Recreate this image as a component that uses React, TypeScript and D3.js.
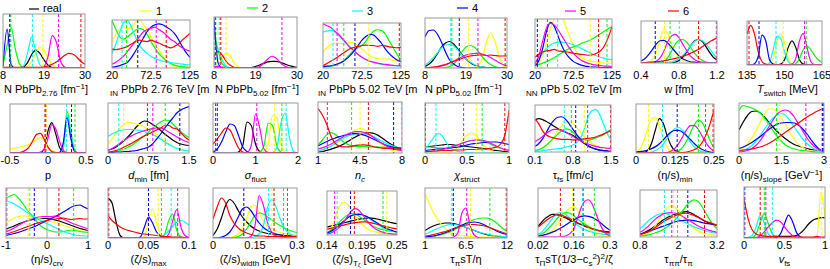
import React from 'react';
import * as d3 from 'd3';

// Posterior densities for 24 model parameters, 7 runs each ("real" + 6 closure tests)
// Every curve: density sampled evenly over the panel's x range, in % of panel height.

const seriesNames = ['real', '1', '2', '3', '4', '5', '6'];
const seriesColors = ['#000000', '#ffff00', '#00ff00', '#00ffff', '#0000ff', '#ff00ff', '#ff0000'];

const tickLabels = [
  ['8', '19', '30'], ['20', '72.5', '125'], ['8', '19', '30'], ['20', '72.5', '125'],
  ['8', '19', '30'], ['20', '72.5', '125'], ['0.4', '0.8', '1.2'], ['135', '150', '165'],
  ['-0.5', '0', '0.5'], ['0', '0.75', '1.5'], ['0', '1', '2'], ['1', '4.5', '8'],
  ['0', '0.5', '1'], ['0.1', '0.8', '1.5'], ['0', '0.125', '0.25'], ['0', '1.5', '3'],
  ['-1', '0', '1'], ['0', '0.05', '0.1'], ['0', '0.15', '0.3'], ['0.14', '0.195', '0.25'],
  ['1', '6.5', '12'], ['0.02', '0.16', '0.3'], ['0.8', '2', '3.2'], ['0', '0.5', '1'],
];

// order: real, 1, 2, 3, 4, 5, 6
const normPbPb276 = [
  [0, 0, 0, 0, 0, 2, 10, 25, 33, 27, 15, 5, 1, 0, 0, 0, 0, 0, 0, 0, 0],
  [0, 0, 0, 0, 0, 0, 3, 12, 28, 38, 33, 18, 6, 1, 0, 0, 0, 0, 0, 0, 0],
  [5, 42, 75, 35, 8, 1, 0, 0, 0, 0, 0, 0, 0, 0, 0, 0, 0, 0, 0, 0, 0],
  [0, 0, 0, 0, 0, 4, 28, 57, 30, 6, 1, 0, 0, 0, 0, 0, 0, 0, 0, 0, 0],
  [3, 72, 6, 0, 0, 0, 0, 0, 0, 0, 0, 0, 0, 0, 0, 0, 0, 0, 0, 0, 0],
  [0, 0, 0, 0, 0, 0, 0, 0, 0, 0, 3, 22, 60, 48, 14, 2, 0, 0, 0, 0, 0],
  [1, 1, 1, 1, 1, 1, 1, 1, 1, 1, 2, 4, 7, 11, 17, 23, 27, 26, 20, 12, 7],
];
const sigmaPbPb276 = [
  null,
  [55, 70, 80, 85, 82, 85, 95, 100, 92, 80, 65, 50, 38, 25, 15, 8, 4, 3, 2, 2, 2],
  [100, 80, 65, 60, 65, 72, 78, 82, 80, 70, 55, 42, 30, 22, 15, 10, 6, 4, 3, 2, 1],
  [30, 50, 75, 95, 98, 85, 65, 48, 38, 30, 24, 20, 17, 14, 12, 11, 10, 9, 8, 7, 6],
  [2, 3, 5, 8, 12, 22, 35, 48, 62, 76, 85, 90, 92, 90, 85, 80, 72, 60, 45, 32, 22],
  [8, 12, 18, 25, 35, 45, 55, 65, 75, 80, 83, 85, 80, 75, 68, 60, 55, 48, 42, 38, 35],
  [40, 38, 40, 42, 45, 50, 55, 58, 56, 55, 58, 55, 52, 48, 45, 42, 45, 50, 58, 65, 72],
];
const normPbPb502 = [
  [0, 0, 0, 0, 0, 0, 0, 0, 0, 1, 3, 6, 9, 12, 13, 13, 11, 8, 5, 3, 1],
  [0, 5, 20, 30, 22, 8, 2, 0, 0, 0, 0, 0, 0, 0, 0, 0, 0, 0, 0, 0, 0],
  [70, 35, 8, 2, 0, 0, 0, 0, 0, 0, 0, 0, 0, 0, 0, 0, 0, 0, 0, 0, 0],
  [20, 35, 15, 3, 0, 0, 0, 0, 0, 0, 0, 0, 0, 0, 0, 0, 0, 0, 0, 0, 0],
  [95, 10, 0, 0, 0, 0, 0, 0, 0, 0, 0, 0, 0, 0, 0, 0, 0, 0, 0, 0, 0],
  [3, 3, 2, 1, 0, 0, 0, 0, 0, 0, 1, 3, 10, 18, 23, 19, 10, 4, 1, 0, 0],
  [22, 32, 25, 12, 5, 1, 0, 0, 0, 0, 0, 0, 0, 0, 0, 0, 0, 0, 0, 0, 0],
];
const sigmaPbPb502 = [
  null,
  [35, 45, 52, 55, 55, 54, 55, 57, 55, 50, 42, 34, 27, 23, 21, 20, 20, 19, 17, 15, 14],
  [2, 3, 4, 6, 9, 14, 22, 32, 40, 45, 50, 60, 72, 82, 85, 83, 75, 60, 45, 30, 18],
  [80, 82, 84, 80, 72, 63, 55, 46, 38, 30, 24, 19, 15, 12, 10, 8, 7, 6, 5, 5, 4],
  [3, 4, 5, 7, 10, 14, 20, 28, 38, 50, 62, 70, 75, 73, 65, 55, 42, 32, 24, 18, 14],
  [98, 94, 90, 82, 75, 65, 55, 45, 38, 30, 24, 19, 15, 13, 11, 9, 8, 7, 6, 5, 5],
  [5, 10, 15, 20, 26, 32, 38, 43, 46, 48, 50, 51, 50, 50, 48, 50, 49, 47, 46, 45, 46],
];
const normPPb502 = [
  [3, 8, 16, 28, 42, 50, 53, 48, 38, 27, 18, 11, 6, 3, 2, 1, 0, 0, 0, 0, 0],
  [0, 0, 0, 0, 0, 0, 0, 0, 0, 0, 0, 0, 1, 5, 20, 52, 70, 55, 25, 6, 1],
  [0, 0, 0, 0, 0, 1, 3, 8, 18, 32, 42, 45, 42, 33, 22, 13, 7, 3, 1, 0, 0],
  [5, 12, 20, 30, 40, 46, 47, 44, 36, 26, 18, 12, 7, 4, 2, 1, 0, 0, 0, 0, 0],
  [62, 75, 76, 68, 52, 32, 16, 8, 3, 1, 0, 0, 0, 0, 0, 0, 0, 0, 0, 0, 0],
  [0, 0, 1, 2, 4, 6, 10, 14, 18, 22, 26, 28, 29, 30, 28, 25, 21, 16, 11, 7, 4],
  [1, 1, 2, 3, 5, 7, 10, 13, 16, 19, 22, 24, 25, 26, 26, 25, 26, 25, 24, 24, 24],
];
const sigmaPPb502 = [
  null,
  [3, 10, 25, 50, 80, 100, 110, 105, 85, 65, 45, 30, 22, 18, 15, 13, 12, 11, 10, 10, 10],
  [5, 7, 10, 13, 17, 21, 26, 31, 36, 40, 43, 46, 50, 53, 56, 60, 65, 70, 75, 80, 84],
  [12, 20, 30, 40, 47, 51, 53, 53, 52, 50, 47, 44, 40, 36, 32, 28, 25, 22, 20, 18, 17],
  [5, 15, 40, 75, 93, 85, 65, 45, 30, 20, 13, 9, 6, 4, 3, 2, 2, 1, 1, 1, 1],
  [8, 25, 55, 82, 91, 88, 78, 65, 52, 40, 30, 22, 16, 12, 9, 7, 6, 5, 4, 4, 3],
  [22, 28, 33, 35, 36, 38, 35, 34, 33, 32, 30, 29, 28, 27, 26, 27, 30, 35, 45, 62, 85],
];
const nucleonW = [
  [0, 0, 0, 0, 0, 0, 0, 0, 0, 2, 6, 14, 26, 40, 52, 56, 52, 40, 26, 14, 7],
  [0, 0, 2, 8, 25, 55, 80, 70, 45, 25, 12, 6, 3, 1, 0, 0, 0, 0, 0, 0, 0],
  [0, 0, 0, 0, 0, 1, 4, 12, 28, 45, 54, 56, 50, 38, 25, 14, 7, 3, 1, 0, 0],
  [0, 0, 0, 0, 0, 0, 0, 0, 2, 5, 10, 18, 28, 40, 50, 56, 54, 46, 35, 22, 12],
  [5, 10, 20, 32, 45, 53, 54, 48, 38, 27, 17, 10, 6, 3, 2, 1, 0, 0, 0, 0, 0],
  [0, 0, 0, 1, 4, 12, 28, 50, 64, 68, 60, 45, 30, 17, 9, 4, 2, 1, 0, 0, 0],
  [1, 1, 2, 2, 3, 4, 5, 7, 9, 11, 13, 16, 19, 23, 27, 32, 38, 44, 50, 55, 60],
];
const tSwitch = [
  [0, 0, 0, 0, 0, 0, 0, 0, 0, 2, 12, 40, 55, 40, 12, 2, 0, 0, 0, 0, 0],
  [0, 0, 0, 0, 0, 0, 2, 15, 55, 72, 50, 15, 2, 0, 0, 0, 0, 0, 0, 0, 0],
  [0, 0, 0, 0, 0, 0, 0, 0, 0, 0, 0, 0, 0, 3, 15, 35, 43, 35, 22, 12, 6],
  [0, 0, 0, 0, 0, 0, 5, 35, 65, 60, 30, 8, 1, 0, 0, 0, 0, 0, 0, 0, 0],
  [0, 0, 3, 20, 68, 55, 12, 2, 0, 0, 0, 0, 0, 0, 0, 0, 0, 0, 0, 0, 0],
  [0, 0, 0, 0, 0, 0, 0, 0, 0, 0, 0, 0, 2, 15, 55, 72, 40, 8, 1, 0, 0],
  [70, 90, 70, 30, 8, 2, 0, 0, 0, 0, 0, 0, 0, 0, 0, 0, 0, 0, 0, 0, 0],
];
const pParam = [
  [0, 0, 0, 0, 0, 0, 0, 0, 1, 8, 45, 62, 40, 12, 2, 0, 0, 0, 0, 0, 0],
  [8, 10, 11, 13, 15, 18, 22, 28, 32, 25, 12, 5, 2, 1, 0, 0, 0, 0, 0, 0, 0],
  [0, 0, 0, 0, 0, 0, 0, 0, 0, 0, 0, 0, 0, 1, 8, 85, 45, 5, 0, 0, 0],
  [0, 0, 0, 0, 0, 0, 0, 0, 0, 0, 0, 0, 0, 0, 10, 78, 40, 4, 0, 0, 0],
  [0, 0, 0, 0, 0, 0, 0, 0, 0, 0, 0, 0, 0, 1, 20, 72, 30, 3, 0, 0, 0],
  [0, 0, 0, 0, 0, 0, 0, 0, 2, 8, 30, 58, 50, 25, 6, 1, 0, 0, 0, 0, 0],
  [0, 0, 0, 2, 5, 12, 25, 38, 40, 28, 12, 3, 1, 0, 0, 0, 0, 0, 0, 0, 0],
];
const dMin = [
  [6, 8, 12, 18, 25, 33, 42, 52, 60, 64, 62, 57, 52, 45, 38, 32, 26, 21, 18, 16, 15],
  [18, 28, 40, 50, 58, 62, 60, 58, 56, 52, 47, 42, 37, 30, 24, 18, 13, 10, 8, 6, 5],
  [1, 2, 3, 5, 8, 12, 16, 22, 28, 35, 42, 50, 56, 62, 66, 65, 58, 50, 42, 36, 31],
  [33, 38, 42, 45, 47, 47, 47, 46, 45, 43, 40, 37, 33, 28, 22, 17, 13, 9, 7, 5, 4],
  [1, 1, 2, 2, 3, 3, 4, 5, 7, 9, 12, 18, 28, 38, 50, 60, 70, 80, 86, 90, 93],
  [5, 9, 14, 20, 26, 31, 35, 39, 42, 45, 47, 49, 50, 50, 47, 42, 37, 32, 28, 24, 21],
  [2, 3, 5, 8, 12, 16, 20, 25, 30, 34, 38, 42, 46, 50, 55, 55, 50, 48, 40, 32, 26],
];
const sigmaFluct = [
  [0, 0, 0, 0, 0, 0, 2, 15, 62, 55, 18, 3, 0, 0, 0, 0, 0, 0, 0, 0, 0],
  [0, 0, 0, 0, 0, 0, 0, 0, 0, 0, 0, 0, 2, 20, 75, 70, 18, 2, 0, 0, 0],
  [0, 0, 0, 0, 0, 0, 0, 0, 0, 0, 0, 2, 15, 60, 55, 15, 2, 0, 0, 0, 0],
  [0, 0, 0, 0, 0, 0, 0, 0, 0, 0, 0, 0, 0, 0, 1, 10, 60, 80, 30, 3, 0],
  [2, 8, 22, 42, 58, 55, 35, 12, 3, 0, 0, 0, 0, 0, 0, 0, 0, 0, 0, 0, 0],
  [0, 0, 0, 0, 0, 0, 0, 0, 1, 15, 78, 50, 8, 1, 0, 0, 0, 0, 0, 0, 0],
  [18, 28, 40, 50, 46, 28, 10, 2, 0, 0, 0, 0, 0, 0, 0, 0, 0, 0, 0, 0, 0],
];
const nC = [
  [2, 3, 5, 7, 10, 13, 17, 22, 27, 32, 36, 39, 40, 39, 36, 31, 25, 19, 14, 10, 7],
  [5, 7, 10, 13, 17, 22, 28, 34, 40, 45, 48, 46, 40, 32, 24, 17, 11, 7, 5, 4, 3],
  [16, 25, 35, 40, 37, 30, 22, 17, 14, 13, 13, 13, 12, 12, 12, 11, 11, 10, 10, 10, 10],
  [4, 6, 9, 13, 18, 24, 29, 33, 36, 38, 39, 38, 36, 33, 29, 24, 20, 16, 13, 11, 9],
  [14, 18, 22, 26, 29, 32, 34, 36, 38, 38, 37, 35, 32, 28, 24, 20, 16, 13, 11, 10, 9],
  [8, 10, 13, 17, 22, 27, 32, 37, 40, 42, 42, 40, 37, 32, 26, 20, 15, 11, 8, 6, 5],
  [87, 75, 58, 35, 20, 14, 12, 12, 13, 15, 16, 16, 15, 13, 11, 10, 9, 9, 8, 8, 7],
];
const chiStruct = [
  [12, 13, 14, 15, 16, 17, 17, 16, 15, 14, 13, 12, 11, 10, 9, 8, 6, 5, 4, 3, 2],
  [0, 0, 0, 0, 0, 0, 2, 6, 14, 26, 36, 40, 36, 26, 15, 8, 4, 2, 1, 0, 0],
  [12, 12, 11, 10, 10, 10, 11, 13, 16, 20, 23, 25, 26, 25, 23, 20, 16, 12, 9, 7, 6],
  [8, 18, 30, 39, 35, 22, 10, 5, 3, 2, 1, 1, 0, 0, 0, 0, 0, 0, 0, 0, 0],
  [5, 6, 7, 8, 8, 9, 10, 11, 12, 14, 16, 18, 19, 20, 21, 22, 22, 22, 21, 19, 17],
  [2, 3, 4, 5, 7, 9, 11, 14, 17, 20, 23, 25, 26, 26, 25, 22, 18, 14, 10, 7, 5],
  [3, 3, 4, 4, 5, 5, 5, 6, 6, 6, 7, 7, 7, 8, 8, 9, 10, 12, 18, 35, 85],
];
const tauFs = [
  [68, 71, 69, 65, 60, 55, 50, 46, 42, 39, 35, 30, 24, 18, 13, 9, 6, 4, 3, 2, 1],
  [3, 5, 8, 14, 22, 33, 45, 55, 62, 64, 60, 52, 42, 32, 24, 18, 14, 11, 9, 8, 7],
  [3, 5, 9, 15, 22, 30, 38, 45, 49, 48, 42, 34, 28, 25, 25, 27, 30, 33, 37, 42, 48],
  [2, 2, 3, 4, 5, 6, 7, 8, 10, 12, 15, 20, 30, 50, 75, 88, 90, 80, 60, 40, 25],
  [12, 18, 28, 42, 57, 68, 74, 75, 70, 60, 48, 37, 27, 19, 13, 9, 6, 4, 3, 2, 1],
  [22, 27, 33, 40, 45, 48, 48, 46, 43, 38, 33, 28, 24, 20, 17, 14, 12, 10, 9, 8, 7],
  [70, 60, 45, 36, 32, 30, 28, 27, 27, 27, 26, 26, 27, 28, 29, 30, 32, 35, 38, 42, 46],
];
const etaSMin = [
  [0, 0, 1, 5, 20, 48, 70, 60, 35, 15, 5, 2, 0, 0, 0, 0, 0, 0, 0, 0, 0],
  [2, 8, 25, 50, 70, 72, 55, 30, 12, 4, 1, 0, 0, 0, 0, 0, 0, 0, 0, 0, 0],
  [0, 0, 0, 0, 0, 0, 0, 0, 0, 0, 2, 5, 12, 25, 42, 58, 67, 62, 45, 25, 10],
  [0, 0, 0, 0, 2, 5, 10, 18, 30, 42, 50, 52, 46, 35, 22, 12, 6, 3, 1, 0, 0],
  [2, 3, 4, 6, 9, 13, 19, 27, 36, 43, 46, 46, 42, 35, 27, 19, 12, 7, 4, 2, 1],
  [0, 0, 0, 0, 0, 0, 0, 0, 1, 4, 10, 20, 34, 48, 56, 56, 48, 34, 20, 10, 4],
  [0, 0, 0, 0, 0, 0, 0, 0, 0, 0, 0, 0, 1, 2, 4, 7, 12, 22, 38, 60, 88],
];
const etaSSlope = [
  [46, 62, 75, 83, 84, 80, 72, 62, 52, 43, 35, 28, 22, 17, 14, 11, 9, 7, 6, 5, 4],
  [5, 10, 18, 30, 45, 62, 78, 88, 88, 82, 70, 55, 40, 28, 18, 11, 7, 4, 3, 2, 2],
  [85, 95, 93, 90, 86, 80, 70, 58, 45, 33, 23, 16, 11, 8, 6, 5, 4, 3, 2, 2, 1],
  [3, 5, 9, 15, 24, 35, 48, 60, 70, 76, 79, 75, 65, 52, 40, 28, 19, 12, 7, 4, 2],
  [9, 12, 16, 21, 27, 33, 40, 47, 53, 58, 60, 61, 61, 60, 56, 48, 38, 26, 15, 7, 3],
  [2, 3, 5, 9, 15, 25, 38, 52, 66, 78, 84, 86, 82, 72, 58, 44, 30, 19, 11, 6, 3],
  [5, 6, 7, 8, 10, 12, 15, 19, 24, 30, 36, 42, 48, 54, 60, 66, 72, 77, 82, 86, 89],
];
const etaSCrv = [
  [18, 21, 24, 28, 31, 34, 36, 38, 39, 39, 39, 38, 36, 34, 31, 28, 25, 22, 19, 17, 15],
  [30, 35, 40, 43, 44, 44, 43, 41, 39, 37, 35, 33, 31, 28, 25, 23, 20, 17, 15, 13, 12],
  [80, 84, 87, 80, 70, 58, 48, 38, 28, 21, 17, 14, 12, 12, 13, 15, 16, 15, 13, 12, 11],
  [73, 72, 68, 63, 58, 52, 47, 42, 37, 33, 29, 25, 21, 17, 13, 10, 8, 6, 5, 4, 4],
  [5, 7, 9, 11, 14, 17, 20, 23, 27, 31, 35, 39, 43, 47, 52, 57, 62, 65, 66, 62, 58],
  [12, 16, 20, 25, 30, 34, 37, 40, 42, 43, 43, 43, 44, 42, 38, 34, 30, 27, 24, 21, 19],
  [8, 10, 13, 16, 19, 22, 25, 28, 31, 33, 35, 37, 38, 39, 40, 38, 37, 38, 39, 38, 38],
];
const zetaSMax = [
  [80, 70, 32, 5, 0, 0, 0, 0, 0, 0, 0, 0, 0, 0, 0, 0, 0, 0, 0, 0, 0],
  [0, 0, 0, 0, 0, 0, 0, 0, 0, 3, 35, 58, 30, 6, 1, 0, 0, 0, 0, 0, 0],
  [0, 0, 0, 0, 0, 0, 0, 0, 0, 0, 0, 0, 0, 1, 8, 35, 48, 15, 2, 0, 0],
  [0, 0, 0, 0, 0, 0, 0, 0, 0, 0, 0, 0, 0, 2, 6, 14, 24, 32, 35, 32, 25],
  [0, 0, 0, 0, 0, 0, 0, 0, 2, 22, 42, 30, 12, 4, 1, 0, 0, 0, 0, 0, 0],
  [0, 0, 0, 0, 0, 0, 0, 0, 0, 0, 0, 0, 0, 0, 1, 8, 35, 57, 22, 5, 1],
  [45, 35, 28, 22, 18, 15, 13, 11, 9, 8, 7, 6, 5, 4, 3, 3, 2, 2, 2, 1, 1],
];
const zetaSWidth = [
  [5, 18, 40, 65, 77, 70, 55, 42, 32, 24, 18, 14, 11, 9, 8, 7, 6, 5, 5, 4, 4],
  [0, 0, 0, 0, 1, 3, 8, 18, 38, 62, 65, 50, 35, 24, 18, 14, 11, 9, 7, 6, 5],
  [0, 0, 0, 0, 0, 1, 3, 8, 18, 32, 45, 50, 48, 42, 36, 30, 25, 20, 16, 13, 11],
  [0, 0, 0, 0, 0, 0, 0, 0, 0, 1, 3, 8, 25, 62, 77, 62, 38, 20, 10, 6, 4],
  [0, 0, 2, 5, 12, 25, 42, 58, 62, 55, 42, 30, 21, 15, 11, 8, 6, 5, 4, 3, 3],
  [0, 0, 0, 0, 0, 0, 0, 0, 0, 3, 25, 85, 65, 30, 12, 5, 2, 1, 0, 0, 0],
  [38, 62, 80, 70, 45, 30, 20, 14, 10, 7, 5, 4, 4, 3, 3, 3, 3, 3, 3, 3, 3],
];
const zetaST0 = [
  [18, 20, 22, 24, 26, 28, 30, 32, 34, 36, 37, 38, 39, 38, 37, 35, 33, 31, 29, 27, 26],
  [5, 12, 30, 55, 70, 75, 68, 58, 45, 33, 24, 17, 12, 9, 7, 5, 4, 3, 3, 2, 2],
  [5, 10, 17, 25, 33, 40, 46, 49, 48, 44, 38, 32, 26, 21, 17, 14, 12, 10, 9, 8, 7],
  [3, 6, 10, 16, 23, 31, 39, 45, 48, 49, 47, 43, 38, 32, 26, 21, 17, 13, 10, 8, 6],
  [5, 8, 13, 19, 26, 33, 40, 44, 46, 47, 46, 43, 39, 34, 29, 24, 19, 15, 12, 9, 7],
  [2, 4, 8, 14, 22, 32, 44, 55, 60, 57, 48, 37, 27, 19, 13, 9, 6, 4, 3, 2, 2],
  [13, 15, 17, 19, 21, 23, 25, 27, 28, 29, 30, 30, 29, 27, 25, 23, 21, 19, 17, 15, 14],
];
const tauPiShear = [
  [15, 20, 24, 27, 29, 30, 30, 29, 27, 24, 21, 18, 15, 12, 9, 7, 5, 4, 3, 2, 2],
  [88, 70, 52, 38, 27, 19, 13, 9, 7, 5, 4, 3, 3, 2, 2, 2, 2, 2, 2, 2, 2],
  [2, 3, 4, 5, 7, 9, 12, 16, 20, 25, 30, 34, 37, 39, 40, 40, 38, 33, 26, 19, 13],
  [8, 11, 15, 19, 22, 25, 27, 27, 26, 24, 21, 18, 15, 12, 10, 8, 6, 5, 4, 3, 3],
  [2, 3, 4, 6, 8, 11, 14, 18, 22, 26, 29, 31, 32, 31, 28, 24, 20, 16, 12, 9, 7],
  [0, 0, 0, 0, 0, 0, 0, 2, 10, 50, 60, 25, 6, 1, 0, 0, 0, 0, 0, 0, 0],
  [4, 5, 7, 9, 11, 13, 16, 19, 22, 24, 26, 27, 27, 26, 25, 23, 20, 17, 14, 11, 9],
];
const tauPiBulk = [
  [22, 30, 38, 43, 46, 46, 44, 41, 38, 34, 31, 28, 25, 22, 19, 17, 15, 13, 12, 11, 10],
  [1, 2, 4, 8, 14, 22, 32, 43, 53, 60, 62, 55, 43, 30, 19, 11, 6, 3, 2, 1, 1],
  [3, 6, 11, 18, 26, 35, 43, 48, 50, 48, 43, 37, 31, 26, 22, 18, 15, 12, 10, 8, 7],
  [5, 10, 18, 28, 38, 46, 50, 49, 44, 37, 30, 24, 19, 15, 12, 10, 8, 7, 6, 5, 5],
  [2, 3, 5, 7, 10, 13, 17, 21, 26, 31, 35, 39, 42, 43, 42, 40, 36, 31, 25, 19, 14],
  [0, 0, 0, 0, 0, 0, 0, 1, 3, 8, 18, 38, 60, 73, 76, 68, 50, 30, 15, 6, 2],
  [20, 26, 32, 38, 42, 45, 45, 43, 40, 37, 33, 29, 26, 23, 20, 17, 15, 13, 11, 10, 9],
];
const tauPiPi = [
  [6, 9, 13, 18, 24, 30, 36, 41, 45, 48, 51, 53, 54, 52, 48, 43, 38, 33, 30, 27, 25],
  [3, 5, 8, 14, 24, 38, 52, 62, 66, 64, 56, 45, 34, 25, 18, 13, 9, 7, 5, 4, 3],
  [2, 3, 4, 6, 9, 12, 16, 21, 28, 36, 45, 55, 66, 75, 79, 76, 66, 52, 38, 26, 18],
  [18, 25, 33, 40, 45, 49, 50, 49, 46, 42, 38, 34, 30, 26, 22, 19, 16, 13, 11, 9, 8],
  [6, 8, 11, 14, 17, 20, 23, 26, 29, 32, 34, 35, 36, 36, 35, 33, 31, 29, 28, 27, 26],
  [10, 15, 22, 30, 38, 44, 49, 51, 52, 51, 48, 44, 39, 34, 29, 24, 20, 17, 14, 12, 10],
  [5, 8, 11, 15, 20, 26, 32, 37, 41, 45, 48, 50, 51, 49, 46, 42, 38, 34, 31, 28, 26],
];
const vFs = [
  [1, 1, 1, 1, 1, 2, 2, 2, 3, 3, 3, 3, 4, 5, 10, 18, 28, 35, 38, 40, 40],
  [0, 0, 0, 0, 0, 0, 0, 0, 0, 0, 0, 0, 0, 0, 0, 0, 0, 1, 3, 90, 40],
  [0, 0, 1, 8, 30, 48, 28, 8, 2, 0, 0, 0, 0, 0, 0, 0, 0, 0, 0, 0, 0],
  [0, 1, 5, 22, 45, 30, 8, 2, 0, 0, 0, 0, 0, 0, 0, 0, 0, 0, 0, 0, 0],
  [0, 0, 0, 0, 0, 0, 0, 0, 1, 8, 28, 45, 32, 10, 2, 0, 0, 0, 0, 0, 0],
  [0, 0, 0, 1, 4, 12, 22, 30, 35, 32, 22, 12, 5, 2, 0, 0, 0, 0, 0, 0, 0],
  [77, 38, 16, 8, 5, 4, 3, 3, 3, 2, 2, 2, 2, 2, 2, 2, 2, 2, 3, 2, 2],
];

const panelCurves = [
  normPbPb276, sigmaPbPb276, normPbPb502, sigmaPbPb502, normPPb502, sigmaPPb502, nucleonW, tSwitch,
  pParam, dMin, sigmaFluct, nC, chiStruct, tauFs, etaSMin, etaSSlope,
  etaSCrv, zetaSMax, zetaSWidth, zetaST0, tauPiShear, tauPiBulk, tauPiPi, vFs,
];

// true parameter values of runs 1..6 (dashed lines)
const truthValues = [
  [18.7, 10.1, 15.9, 9.8, 22.9, 28.9],
  [53.8, 39.4, 33.5, 54.7, 79.5, 93],
  [11.2, 8.5, 9.4, 8.3, 26, 9.8],
  [81.7, 48, 33.5, 63, 39, 122.7],
  [19.7, 15.2, 14.9, 17.2, 22.2, 29.5],
  [95.3, 118.2, 51, 23.2, 36.9, 106.7],
  [0.647, 0.706, 0.803, 0.55, 1.193, 1.005],
  [149.5, 158.7, 146.6, 139.8, 158, 135.8],
  [-0.02, 0.355, 0.245, 0.31, -0.03, -0.04],
  [0.29, 1.06, 0.2, 1.33, 0.83, 0.73],
  [1.45, 1.62, 1.72, 0.1, 1.03, 0.06],
  [4.5, 3.8, 7.97, 7.3, 1.78, 5.2],
  [0.61, 0.68, 0.13, 0.003, 0.46, 0.95],
  [1.01, 0.77, 0.64, 0.85, 1.07, 1.49],
  [0.04, 0.2, 0.085, 0.132, 0.223, 0.247],
  [1.44, 1.32, 2.92, 2.95, 2.36, 2.98],
  [-0.46, 0.65, -0.42, -0.31, -0.98, 0.29],
  [0.062, 0.066, 0.078, 0.05, 0.086, 0.001],
  [0.21, 0.252, 0.198, 0.11, 0.266, 0.218],
  [0.234, 0.228, 0.156, 0.177, 0.152, 0.183],
  [7.1, 9.7, 4.6, 4.8, 6.6, 11.9],
  [0.154, 0.239, 0.193, 0.159, 0.196, 0.107],
  [1.84, 1.97, 1.56, 2.29, 1.79, 2.81],
  [0.96, 0.25, 0.35, 0.01, 0.27, 0.2],
];

// ---- layout (pixels) ----
const boxes: [number, number, number, number][] = [
  [3, 85, 14, 68], [112, 190, 20, 68], [214, 297, 17, 68], [323, 401, 23, 68],
  [425, 507, 18, 68], [535, 612, 19, 68], [641, 717, 21, 63], [747, 822, 21, 65],
  [10, 86, 104, 153], [108, 189, 103, 153], [213, 298, 103, 153], [318, 402, 102, 153],
  [425, 509, 103, 153], [535, 611, 105, 152], [636, 714, 104, 153], [739, 824, 103, 153],
  [6, 88, 188, 238], [108, 189, 188, 238], [213, 297, 188, 238], [327, 397, 191, 235],
  [425, 507, 188, 238], [538, 610, 188, 237], [640, 717, 190, 237], [744, 825, 187, 238],
];
const tickY = [79, 164, 249];
const labelY = [93, 179, 263];
// legend: [line x0, line x1, line y, text x, text baseline]
const legendPos = [
  [29, 39, 9, 43, 12], [140, 152, 11, 156, 15], [247, 258, 8, 262, 12], [352, 363, 11, 367, 15],
  [457, 468, 8, 472, 12], [565, 576, 11, 580, 15], [668, 679, 11, 683, 15],
];

type Seg = { t: string; s?: 'sub' | 'sup' | 'subsub'; it?: boolean };
type Label = { segs: Seg[]; x?: number; anchor?: 'start' | 'middle'; dx?: number };

const labels: Label[] = [
  { x: 4, anchor: 'start', segs: [{ t: 'N PbPb' }, { t: '2.76', s: 'sub' }, { t: ' [fm' }, { t: '−1', s: 'sup' }, { t: ']' }] },
  { x: 110, anchor: 'start', segs: [{ t: 'IN', s: 'sub' }, { t: ' PbPb 2.76 TeV [m' }] },
  { x: 215, anchor: 'start', segs: [{ t: 'N PbPb' }, { t: '5.02', s: 'sub' }, { t: ' [fm' }, { t: '−1', s: 'sup' }, { t: ']' }] },
  { x: 318, anchor: 'start', segs: [{ t: 'IN', s: 'sub' }, { t: ' PbPb 5.02 TeV [m' }] },
  { x: 425, anchor: 'start', segs: [{ t: 'N pPb' }, { t: '5.02', s: 'sub' }, { t: ' [fm' }, { t: '−1', s: 'sup' }, { t: ']' }] },
  { x: 526, anchor: 'start', segs: [{ t: 'NN', s: 'sub' }, { t: ' pPb 5.02 TeV [m' }] },
  { segs: [{ t: 'w [fm]' }] },
  { dx: 3, segs: [{ t: 'T', it: true }, { t: 'switch', s: 'sub' }, { t: ' [MeV]' }] },
  { segs: [{ t: 'p' }] },
  { segs: [{ t: 'd', it: true }, { t: 'min', s: 'sub' }, { t: ' [fm]' }] },
  { segs: [{ t: 'σ', it: true }, { t: 'fluct', s: 'sub' }] },
  { segs: [{ t: 'n', it: true }, { t: 'c', s: 'sub', it: true }] },
  { segs: [{ t: 'χ', it: true }, { t: 'struct', s: 'sub' }] },
  { segs: [{ t: 'τ' }, { t: 'fs', s: 'sub' }, { t: ' [fm/c]' }] },
  { segs: [{ t: '(η/s)' }, { t: 'min', s: 'sub' }] },
  { segs: [{ t: '(η/s)' }, { t: 'slope', s: 'sub' }, { t: ' [GeV' }, { t: '−1', s: 'sup' }, { t: ']' }] },
  { segs: [{ t: '(η/s)' }, { t: 'crv', s: 'sub' }] },
  { segs: [{ t: '(ζ/s)' }, { t: 'max', s: 'sub' }] },
  { segs: [{ t: '(ζ/s)' }, { t: 'width', s: 'sub' }, { t: ' [GeV]' }] },
  { segs: [{ t: '(ζ/s)' }, { t: 'T', s: 'sub' }, { t: 'ζ', s: 'subsub' }, { t: ' [GeV]' }] },
  { segs: [{ t: 'τ' }, { t: 'π', s: 'sub' }, { t: 'sT/η' }] },
  { segs: [{ t: 'τ' }, { t: 'Π', s: 'sub' }, { t: 'sT(1/3−c' }, { t: 's', s: 'sub' }, { t: '2', s: 'sup' }, { t: ')' }, { t: '2', s: 'sup' }, { t: '/ζ' }] },
  { segs: [{ t: 'τ' }, { t: 'ππ', s: 'sub' }, { t: '/τ' }, { t: 'π', s: 'sub' }] },
  { segs: [{ t: 'v', it: true }, { t: 'fs', s: 'sub' }] },
];

const FONT = '"Liberation Sans", Arial, Helvetica, sans-serif';

function RichText({ segs, x, y, anchor }: { segs: Seg[]; x: number; y: number; anchor: string }) {
  let cur = 0;
  return (
    <text x={x} y={y} textAnchor={anchor} fontSize={11} style={{ whiteSpace: 'pre' }}>
      {segs.map((g, j) => {
        const target = g.s === 'sub' ? 2.5 : g.s === 'sup' ? -4 : g.s === 'subsub' ? 4 : 0;
        const dy = target - cur;
        cur = target;
        const fs = g.s === 'subsub' ? 6 : g.s ? 8 : 11;
        return (
          <tspan key={j} dy={dy} fontSize={fs} fontStyle={g.it ? 'italic' : undefined}>
            {g.t}
          </tspan>
        );
      })}
    </text>
  );
}

function Panel({ i }: { i: number }) {
  const [x0, x1, y0, y1] = boxes[i];
  const row = Math.floor(i / 8);
  const ticks = tickLabels[i].map(Number);
  const lo = ticks[0];
  const hi = ticks[2];
  const x = d3.scaleLinear().domain([lo, hi]).range([x0, x1]);
  const y = d3.scaleLinear().domain([0, 100]).range([y1, y0]);
  const lab = labels[i];
  const lx = lab.x ?? (x0 + x1) / 2 + (lab.dx ?? 0);

  return (
    <g>
      <defs>
        <clipPath id={`clip${i}`}>
          <rect x={x0} y={y0} width={x1 - x0} height={y1 - y0} />
        </clipPath>
      </defs>
      <rect x={x0} y={y0} width={x1 - x0} height={y1 - y0} fill="#fff" />
      {i === 16 && <line x1={x(0)} x2={x(0)} y1={y0} y2={y1} stroke="#a0a0a0" strokeWidth={1} />}
      <g clipPath={`url(#clip${i})`}>
        {panelCurves[i].map((vals, s) => {
          if (!vals) return null;
          const n = vals.length;
          const line = d3
            .line<number>()
            .x((_, k) => x(lo + ((hi - lo) * k) / (n - 1)))
            .y((v) => y(v))
            .curve(d3.curveMonotoneX);
          return (
            <path key={s} d={line(vals) || ''} fill="none" stroke={seriesColors[s]} strokeWidth={1.2} />
          );
        })}
        {truthValues[i].map((v, s) => (
          <line
            key={`t${s}`}
            x1={x(v)}
            x2={x(v)}
            y1={y0}
            y2={y1}
            stroke={seriesColors[s + 1]}
            strokeWidth={1}
            strokeDasharray="3,2"
          />
        ))}
      </g>
      <rect x={x0} y={y0} width={x1 - x0} height={y1 - y0} fill="none" stroke="#9a9a9a" strokeWidth={1} />
      {ticks.map((t, k) => (
        <text key={k} x={x(t)} y={tickY[row]} textAnchor="middle" fontSize={11}>
          {tickLabels[i][k]}
        </text>
      ))}
      <RichText segs={lab.segs} x={lx} y={labelY[row]} anchor={lab.anchor ?? 'middle'} />
    </g>
  );
}

export default function App() {
  return (
    <svg
      width={830}
      height={269}
      style={{ position: 'absolute', left: 0, top: 0, background: '#fff' }}
      fontFamily={FONT}
    >
      <rect width={830} height={269} fill="#fff" />
      {boxes.map((_, i) => (
        <Panel key={i} i={i} />
      ))}
      {seriesNames.map((name, s) => {
        const [lx0, lx1, ly, tx, ty] = legendPos[s];
        return (
          <g key={name}>
            <line x1={lx0} x2={lx1} y1={ly} y2={ly} stroke={seriesColors[s]} strokeWidth={1.2} />
            <text x={tx} y={ty} fontSize={11}>
              {name}
            </text>
          </g>
        );
      })}
    </svg>
  );
}
